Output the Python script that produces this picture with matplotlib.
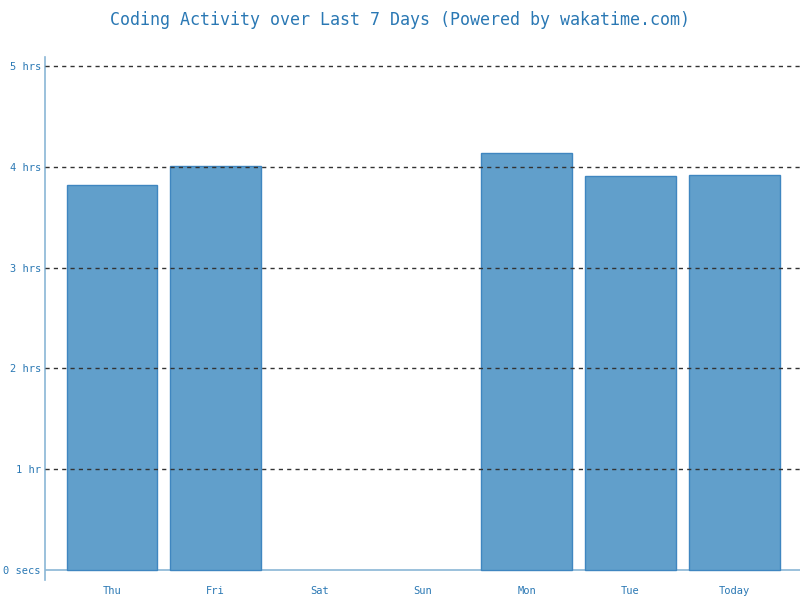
import matplotlib
matplotlib.use('Agg')
import matplotlib.pyplot as plt

# hours coded per day
days = ['Thu', 'Fri', 'Sat', 'Sun', 'Mon', 'Tue', 'Today']
hours = [3.82, 4.01, 0.0, 0.0, 4.14, 3.91, 3.92]
yticks = [0, 1, 2, 3, 4, 5]
ylabels = ['0 secs', '1 hr', '2 hrs', '3 hrs', '4 hrs', '5 hrs']

plt.rcParams['font.family'] = ['DejaVu Sans Mono']
txt = '#2a78b4'

fig = plt.figure(figsize=(8, 6), dpi=100)
ax = fig.add_axes([45 / 800, 20 / 600, 755 / 800, 523 / 600])

x = list(range(len(days)))
# days with no activity get no bar at all
xs = [i for i, h in zip(x, hours) if h > 0]
hs = [h for h in hours if h > 0]
ax.bar(xs, hs, width=0.877, color='#619fcb', edgecolor='#3f86c0', linewidth=1, zorder=2)

for y in yticks[1:]:
    ax.axhline(y, color='#333333', linestyle=(0, (3, 3)), linewidth=1, zorder=3)
ax.axhline(0, color='#8ab6d6', linewidth=1.2, zorder=1)

ax.set_xlim(-0.646, 6.634)
ax.set_ylim(-0.099, 5.089)
ax.set_yticks(yticks)
ax.set_yticklabels(ylabels)
ax.set_xticks(x)
ax.set_xticklabels(days)
ax.tick_params(axis='both', length=0, labelsize=7.5, labelcolor=txt)
ax.tick_params(axis='y', pad=3)
ax.tick_params(axis='x', pad=4)

for s in ['top', 'right', 'bottom']:
    ax.spines[s].set_visible(False)
ax.spines['left'].set_color('#8ab6d6')
ax.spines['left'].set_linewidth(1.2)

fig.text(0.5, 1 - 20 / 600, 'Coding Activity over Last 7 Days (Powered by wakatime.com)',
         ha='center', va='center', fontsize=12, color=txt)

fig.savefig('out.png', dpi=100)
